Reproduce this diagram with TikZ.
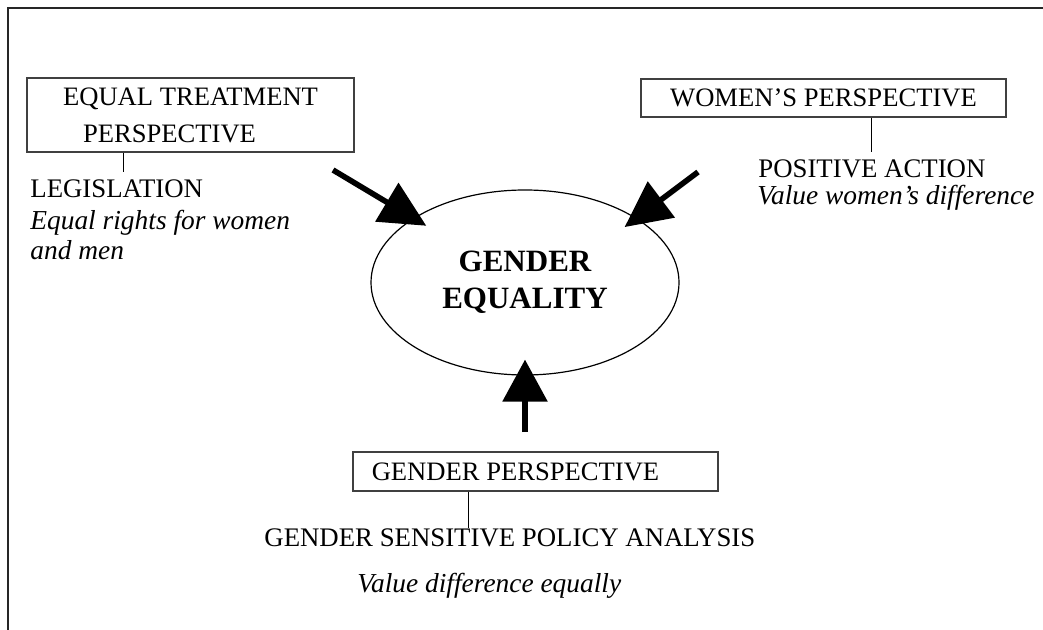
\documentclass[tikz,border=0pt]{standalone}
\usepackage{fontspec}
\setmainfont{Liberation Serif}
\usetikzlibrary{arrows.meta,shapes.geometric}

\begin{document}
\begin{tikzpicture}[x=0.5pt, y=-0.5pt,
    box/.style={draw=black!75, line width=0.6pt, inner sep=0pt, font=\fontsize{13.3}{18.5}\selectfont},
    lbl/.style={anchor=base west, inner xsep=0pt, inner ysep=4pt, font=\fontsize{13.4}{15}\selectfont},
    note/.style={lbl, font=\fontsize{13.7}{15}\selectfont\itshape},
    push/.style={line width=2.8pt, -{Triangle[length=23pt, width=22pt]}, shorten >=-7.5pt}]
  \useasboundingbox (0,0) rectangle (1043,630);
  \draw[line width=0.8pt, black!85] (8,630) -- (8,8) -- (1043,8);

  % Nodes
  \node[draw, ellipse, line width=0.6pt, minimum width=154pt, minimum height=92.5pt, inner sep=0pt, align=center,
        font=\fontsize{15.5}{18.5}\selectfont\bfseries] (eq) at (525,282.5) {GENDER\\EQUALITY};
  \node[box, minimum width=163.5pt, minimum height=37pt, align=left] (et) at (190.5,115)
    {EQUAL TREATMENT\\\hspace*{10pt}PERSPECTIVE};
  \node[box, minimum width=182.5pt, minimum height=19pt] (wp) at (823.5,98) {WOMEN'S PERSPECTIVE};
  \node[box, minimum width=182.5pt, minimum height=19.5pt] (gp) at (535.5,471.5) {GENDER PERSPECTIVE\hspace*{20pt}};

  \node[lbl] (lg) at (30,198) {LEGISLATION};
  \node[note] (er) at (30,230) {Equal rights for women};
  \node[note] (am) at (30,260) {and men};
  \node[lbl] (pa) at (758,178) {POSITIVE ACTION};
  \node[note] (vw) at (757,205) {Value women's difference};
  \node[lbl, inner ysep=0pt] (gs) at (264,546) {GENDER SENSITIVE POLICY ANALYSIS};
  \node[note] (vd) at (357,592) {Value difference equally};

  \coordinate (a) at (333,170);
  \coordinate (b) at (698,172);
  \coordinate (c) at (525,432);

  % Edges
  \draw[line width=0.5pt] (et.south -| 123,0) -- (lg.north -| 123,0);
  \draw[line width=0.5pt] (wp.south -| 871,0) -- (pa.north -| 871,0);
  \draw[line width=0.5pt] (gp.south -| 468,0) -- (gs.north -| 468,0);

  \draw[push] (a) -- (eq.150);
  \draw[push] (b) -- (eq.30);
  \draw[push, -{Triangle[length=21pt, width=22pt]}, shorten >=-8pt] (c) -- (eq.south);
\end{tikzpicture}
\end{document}
